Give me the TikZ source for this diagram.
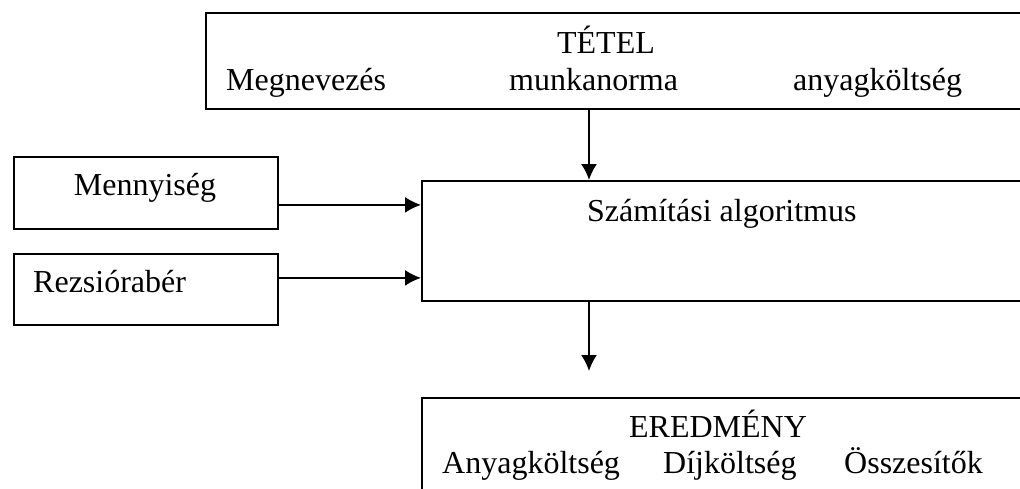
\documentclass[tikz,border=0pt]{standalone}
\usepackage{fontspec}
\setmainfont{Liberation Serif}
\usetikzlibrary{arrows.meta}
\begin{document}
\begin{tikzpicture}[x=1pt,y=-1pt,
  box/.style={draw,line width=1.8pt,rectangle,inner sep=0pt},
  lbl/.style={inner sep=0pt,font=\fontsize{32}{38}\selectfont},
  arr/.style={line width=1.8pt,-{Latex[length=16pt,width=16pt]}}]
\clip (0,0) rectangle (1020,488);
% boxes
\node[box,minimum width=825pt,minimum height=96pt,anchor=north west] (top) at (205,12) {};
\node[box,minimum width=264pt,minimum height=72pt,anchor=north west] (men) at (13,156) {};
\node[box,minimum width=264pt,minimum height=71pt,anchor=north west] (rez) at (13,253) {};
\node[box,minimum width=609pt,minimum height=120pt,anchor=north west] (mid) at (421,180) {};
\node[box,minimum width=609pt,minimum height=110pt,anchor=north west] (bot) at (421,397) {};
% texts
\node[lbl,anchor=base] (tetel) at (606,53) {TÉTEL};
\node[lbl,anchor=base west] (megn) at (226,90) {Megnevezés};
\node[lbl,anchor=base west] (munka) at (509,90) {munkanorma};
\node[lbl,anchor=base west] (anyag) at (793,90) {anyagköltség};
\node[lbl,anchor=base] (menny) at (145,195) {Mennyiség};
\node[lbl,anchor=base west] (rezs) at (33,292) {Rezsiórabér};
\node[lbl,anchor=base west] (szam) at (587,221) {Számítási algoritmus};
\node[lbl,anchor=base] (ered) at (718,437) {EREDMÉNY};
\node[lbl,anchor=base west] (ak) at (442,473) {Anyagköltség};
\node[lbl,anchor=base west] (dk) at (663,473) {Díjköltség};
\node[lbl,anchor=base west] (ossz) at (844,473) {Összesítők};
% connectors
\coordinate (ax) at (589,0);
\draw[arr] (top.south -| ax) -- (mid.north -| ax);
\draw[arr] ([yshift=-12pt]men.east) -- ([yshift=-12pt]men.east -| mid.west);
\draw[arr] ([yshift=11.5pt]rez.east) -- ([yshift=11.5pt]rez.east -| mid.west);
\draw[arr] (mid.south -| ax) -- ([yshift=26pt]bot.north -| ax);
\end{tikzpicture}
\end{document}
